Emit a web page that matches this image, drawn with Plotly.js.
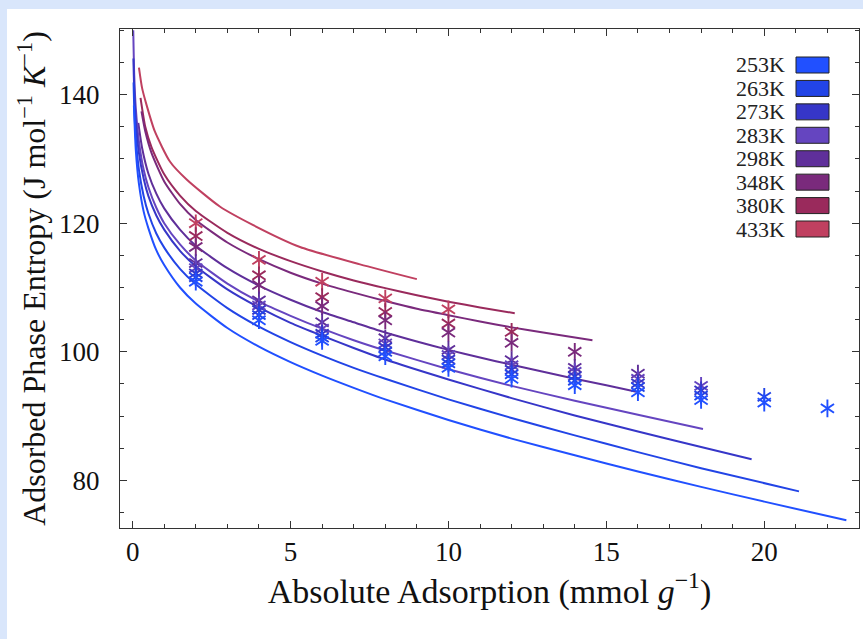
<!DOCTYPE html>
<html><head><meta charset="utf-8">
<script src="https://cdn.plot.ly/plotly-3.0.1.min.js"></script>
<style>
html,body{margin:0;padding:0;background:#d9e6fb;width:863px;height:639px;overflow:hidden}
#chart{position:absolute;left:7px;top:9px;width:856px;height:630px;background:#fff}
</style></head><body><div id="chart"></div>
<script>
// ---- data ----
const temps = ['253K','263K','273K','283K','298K','348K','380K','433K'];
const colors = ['#2150ff','#2244e6','#3636c8','#6545c0','#5f2f9a','#7a2a7c','#9a2a5c','#c04060'];

// model curves
const curveX_253 = [0.04,0.1,0.2,0.35,0.5,0.75,1,1.5,2,3,4,5,6,7,8,10,12,14,16,18,20,22.6];
const curveY_253 = [138.3,131.4,126.1,121.8,119.2,115.8,113.5,110.0,107.5,103.7,100.8,98.4,96.3,94.4,92.6,89.4,86.5,83.9,81.4,79.0,76.7,73.8];
const curveX_263 = [0.03,0.05,0.1,0.2,0.35,0.5,0.75,1,1.5,2,3,4,5,6,7,8,10,12,14,16,18,21.1];
const curveY_263 = [141.9,138.2,133.3,128.3,124.2,121.5,118.4,116.2,112.9,110.5,106.8,103.9,101.5,99.4,97.5,95.8,92.6,89.7,87.0,84.4,81.9,78.3];
const curveX_273 = [0.025,0.05,0.1,0.2,0.35,0.5,0.75,1,1.5,2,3,4,5,6,7,8,10,12,14,16,18,19.6];
const curveY_273 = [145.6,140.7,135.8,130.9,126.9,124.2,121.2,119.0,115.7,113.3,109.7,106.9,104.5,102.5,100.6,98.8,95.7,92.8,90.1,87.6,85.2,83.3];
const curveX_283 = [0.02,0.05,0.1,0.2,0.35,0.5,0.75,1,1.5,2,3,4,5,6,7,8,10,12,14,16,18.06];
const curveY_283 = [150.0,143.1,137.9,132.7,128.3,125.6,122.4,120.0,116.7,114.2,110.6,107.8,105.6,103.6,101.8,100.2,97.3,94.7,92.4,90.2,88.0];
const curveX_298 = [0.18,0.3,0.5,0.75,1,1.5,2,3,4,5,6,7,8,9,10,11,12,13,14,15,15.95];
const curveY_298 = [135.6,131.7,127.7,124.6,122.3,119.0,116.5,113.0,110.3,108.1,106.2,104.6,103.0,101.6,100.3,99.1,98.0,96.9,95.8,94.8,93.8];
const curveX_348 = [0.28,0.4,0.6,1,1.5,2,3,4,5,6,7,8,9,10,11,12,13,14.56];
const curveY_348 = [137.4,134.3,130.9,126.5,123.0,120.5,117.0,114.4,112.3,110.6,109.2,107.9,106.7,105.7,104.7,103.8,103.0,101.8];
const curveX_380 = [0.25,0.4,0.6,1,1.5,2,3,4,5,6,7,8,9,10,11,12.1];
const curveY_380 = [139.5,135.0,131.8,127.6,124.3,121.9,118.5,116.0,114.1,112.5,111.1,109.9,108.8,107.8,106.9,106.0];
const curveX_433 = [0.2,0.3,0.44,0.7,1.18,1.71,2.76,3.82,5.3,7.2,9.0];
const curveY_433 = [144.2,141.0,138.4,134.3,129.6,126.8,122.6,119.7,116.3,113.6,111.3];

// data points (asterisks), loading 2,4,6,... mmol/g
const pointX = [2,4,6,8,10,12,14,16,18,20,22];
const pointY_253 = [110.9,104.9,101.7,99.3,97.5,95.8,94.8,93.7,92.5,92.1,91.2];
const pointY_263 = [111.6,105.7,102.2,100.0,98.2,96.5,95.5,94.5,93.2,93.0];
const pointY_273 = [112.2,106.5,102.8,100.7,98.8,97.2,96.2,95.1,94.0];
const pointY_283 = [113.0,107.2,103.6,101.3,99.5,97.9,96.9,95.8,94.7];
const pointY_298 = [113.8,108.0,104.6,102.1,100.3,98.7,97.5,96.6];
const pointY_348 = [116.3,110.4,107.1,104.9,103.0,101.4,100.0];
const pointY_380 = [118.0,111.9,108.5,106.2,104.4,103.1];
const pointY_433 = [120.0,114.3,110.9,108.3,106.6];

const xTicks = [0,5,10,15,20];
const yTicks = [80,100,120,140];

// ---- build ----
const curvesX = [curveX_253,curveX_263,curveX_273,curveX_283,curveX_298,curveX_348,curveX_380,curveX_433];
const curvesY = [curveY_253,curveY_263,curveY_273,curveY_283,curveY_298,curveY_348,curveY_380,curveY_433];
const pointsY = [pointY_253,pointY_263,pointY_273,pointY_283,pointY_298,pointY_348,pointY_380,pointY_433];

const traces = [];
for (let i = temps.length-1; i >= 0; i--) {
  traces.push({x: curvesX[i], y: curvesY[i], mode:'lines', type:'scatter', name: temps[i],
    line:{color: colors[i], width:2, shape:'spline', smoothing:0.6}, hoverinfo:'skip'});
}
for (let i = temps.length-1; i >= 0; i--) {
  const px = pointX.slice(0, pointsY[i].length);
  ['y-up-open','y-down-open'].forEach(sym => {
    traces.push({x: px, y: pointsY[i], mode:'markers', type:'scatter', name: temps[i],
      marker:{symbol: sym, size: 11, color: colors[i], line:{color: colors[i], width:1.9}}, hoverinfo:'skip'});
  });
}

// geometry (chart div coords)
const W = 856, H = 630;
const M = {l:113, r:4, t:20, b:111};
const pw = W - M.l - M.r, ph = H - M.t - M.b;
const offX = 7, offY = 9; // div offset in page
const paperX = px => (px - offX - M.l) / pw;
const paperY = py => 1 - (py - offY - M.t) / ph;

const annotations = [], shapes = [];
const rowTop = 65, rowStep = 23.43;
temps.forEach((t, i) => {
  const cy = rowTop + i*rowStep;
  annotations.push({xref:'paper', yref:'paper', x: paperX(787), y: paperY(cy), xanchor:'right', yanchor:'middle',
    text: t, showarrow:false, font:{family:'Liberation Serif', size:22, color:'#222'}});
  shapes.push({type:'rect', xref:'paper', yref:'paper', x0: paperX(796), x1: paperX(829), y0: paperY(cy-8), y1: paperY(cy+8),
    fillcolor: colors[i], line:{color:'#222', width:1}});
});

const tickFont = {family:'Liberation Serif', size:27, color:'#111'};
const layout = {
  width: W, height: H, margin: M, paper_bgcolor:'#fff', plot_bgcolor:'#fff', showlegend:false,
  xaxis:{range:[-0.4,23.0], tickmode:'array', tickvals:xTicks, ticks:'inside', ticklen:7, tickwidth:1, tickcolor:'#333',
    showline:true, linecolor:'#333', linewidth:1, mirror:'ticks', showgrid:false, zeroline:false,
    minor:{dtick:1, tick0:0, ticks:'inside', ticklen:4, tickcolor:'#333', showgrid:false},
    tickfont: tickFont, ticklabelstandoff: 0,
    title:{text:'Absolute Adsorption (mmol <i>g</i><sup>−1</sup>)', font:{family:'Liberation Serif', size:34, color:'#111'}, standoff:4}},
  yaxis:{range:[72.6,150.2], tickmode:'array', tickvals:yTicks, ticks:'inside', ticklen:7, tickwidth:1, tickcolor:'#333',
    showline:true, linecolor:'#333', linewidth:1, mirror:'ticks', showgrid:false, zeroline:false,
    minor:{dtick:5, tick0:0, ticks:'inside', ticklen:4, tickcolor:'#333', showgrid:false},
    tickfont: tickFont, ticklabelstandoff: 14,
    title:{text:'Adsorbed Phase Entropy (J mol<sup>−1</sup> <i>K</i><sup>−1</sup>)', font:{family:'Liberation Serif', size:32, color:'#111'}, standoff:3}},
  annotations, shapes
};
Plotly.newPlot('chart', traces, layout, {staticPlot:true});
</script></body></html>
